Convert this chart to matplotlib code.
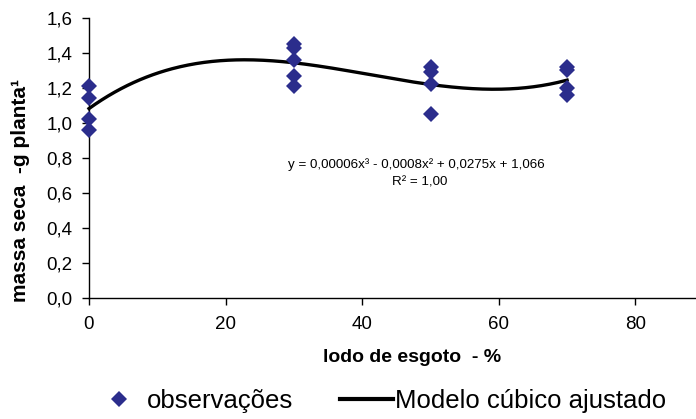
import numpy as np
import matplotlib
matplotlib.use("Agg")
import matplotlib.pyplot as plt
from matplotlib import font_manager
from matplotlib.lines import Line2D

# ---- data ----
x_obs = [0, 0, 0, 0,
         30, 30, 30, 30, 30,
         50, 50, 50, 50,
         70, 70, 70, 70]
y_obs = [1.21, 1.14, 1.02, 0.96,
         1.45, 1.43, 1.36, 1.27, 1.21,
         1.32, 1.29, 1.22, 1.05,
         1.32, 1.30, 1.20, 1.16]
x_ticks = [0, 20, 40, 60, 80]
y_ticks = [0.0, 0.2, 0.4, 0.6, 0.8, 1.0, 1.2, 1.4, 1.6]
y_ticklabels = ["0,0", "0,2", "0,4", "0,6", "0,8", "1,0", "1,2", "1,4", "1,6"]
equation = "y = 0,00006x³ - 0,0008x² + 0,0275x + 1,066"
r2_text = "R² = 1,00"
xlabel = "lodo de esgoto  - %"
ylabel = "massa seca  -g planta¹"
legend_labels = ["observações", "Modelo cúbico ajustado"]


def pick(names):
    for n in names:
        try:
            font_manager.findfont(font_manager.FontProperties(family=n), fallback_to_default=False)
            return n
        except Exception:
            pass
    return "DejaVu Sans"


narrow = pick(["Liberation Sans Narrow", "Liberation Sans"])
regular = pick(["Liberation Sans", "DejaVu Sans"])

W, H = 696, 419
fig = plt.figure(figsize=(W / 100, H / 100), dpi=100)

x0, y_bot, y_top = 89, 298, 18
px_per_unit = 6.83
xmax = 90
ax = fig.add_axes([x0 / W, 1 - y_bot / H, xmax * px_per_unit / W, (y_bot - y_top) / H])
ax.set_xlim(0, xmax)
ax.set_ylim(0, 1.6)

navy = "#2B2D8C"
ax.plot(x_obs, y_obs, linestyle="none", marker="D", markersize=8.5,
        color=navy, markeredgewidth=0, clip_on=False, zorder=3)

coef = np.polyfit(x_obs, y_obs, 3)
xs = np.linspace(0, 70, 300)
ax.plot(xs, np.polyval(coef, xs), color="black", linewidth=2.4, zorder=2, clip_on=False)

for s in ["top", "right"]:
    ax.spines[s].set_visible(False)
for s in ["left", "bottom"]:
    ax.spines[s].set_linewidth(1.0)
    ax.spines[s].set_color("black")

ax.set_xticks(x_ticks)
ax.set_xticklabels([str(t) for t in x_ticks], family=narrow, fontsize=13.5)
ax.set_yticks(y_ticks)
ax.set_yticklabels(y_ticklabels, family=narrow, fontsize=13.5)
ax.tick_params(axis="both", direction="out", length=5, width=1, color="black")
ax.tick_params(axis="y", pad=7)
ax.tick_params(axis="x", pad=8)

eq_x = (416 - x0) / px_per_unit
ax.text(eq_x, (y_bot - 165) / 175, equation, ha="center", va="center", fontsize=9.6, family=regular)
ax.text((420 - x0) / px_per_unit, (y_bot - 182) / 175, r2_text, ha="center", va="center",
        fontsize=9.6, family=regular)

fig.text(412 / W, 1 - 357 / H, xlabel, ha="center", va="center",
         fontsize=14, fontweight="bold", family=narrow)
fig.text(21 / W, 1 - 190 / H, ylabel, ha="center", va="center", rotation=90,
         fontsize=15, fontweight="bold", family=regular)

handles = [Line2D([], [], linestyle="none", marker="D", markersize=8.5, color=navy, markeredgewidth=0),
           Line2D([], [], color="black", linewidth=3.0)]
fig.legend(handles, legend_labels, loc="center left", bbox_to_anchor=(93 / W, 1 - 401 / H),
           ncol=2, frameon=False, prop={"family": regular, "size": 18.5},
           handlelength=2.06, handletextpad=0.05, columnspacing=1.83,
           borderpad=0, borderaxespad=0)

fig.savefig("out.png", dpi=100)
